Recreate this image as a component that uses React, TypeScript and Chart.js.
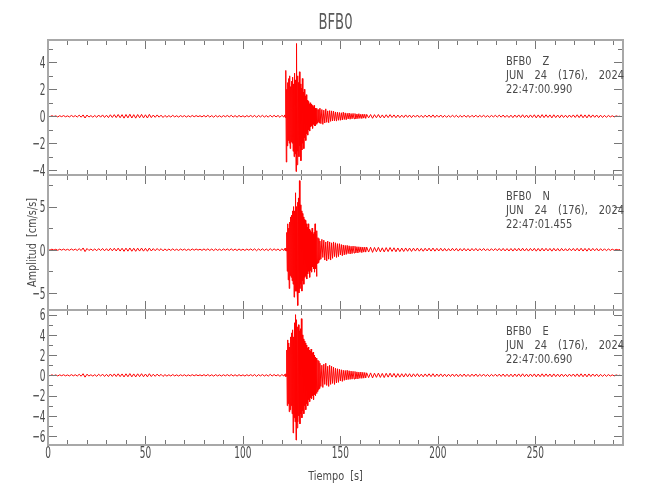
import React, { useEffect, useRef } from "react";
import { Chart, registerables } from "chart.js";

Chart.register(...registerables);

// ---------- text ----------
const TITLE = "BFB0";
const X_TITLE = "Tiempo [s]";
const Y_TITLE = "Amplitud [cm/s/s]";
const STATION = "BFB0";
const channels = ["Z", "N", "E"];
const dateLabel = "JUN 24 (176), 2024";
const startTimes = ["22:47:00.990", "22:47:01.455", "22:47:00.690"];

// ---------- axes ----------
const X_MIN = 0;
const X_MAX = 295;
const xTicks = [0, 10, 20, 30, 40, 50, 60, 70, 80, 90, 100, 110, 120, 130, 140, 150, 160, 170, 180, 190, 200, 210, 220, 230, 240, 250, 260, 270, 280, 290];
const xLabelTicks = [0, 50, 100, 150, 200, 250];

const zRange = [-4.36, 5.66];
const nRange = [-6.99, 8.66];
const eRange = [-6.89, 6.46];
const zTicks = [-4, -3, -2, -1, 0, 1, 2, 3, 4, 5];
const zLabelTicks = [-4, -2, 0, 2, 4];
const nTicks = [-5, -2.5, 0, 2.5, 5, 7.5];
const nLabelTicks = [-5, 0, 5];
const eTicks = [-6, -5, -4, -3, -2, -1, 0, 1, 2, 3, 4, 5, 6];
const eLabelTicks = [-6, -4, -2, 0, 2, 4, 6];

// ---------- sample grid (start time, step in s) ----------
const preStart = 0, preStep = 1;
const burstStart = 121.5, burstStep = 0.25;
const decayStart = 139.5, decayStep = 0.5;
const tailStart = 163.5, tailStep = 1;

// ---------- Z component (cm/s/s) ----------
const zPre = [
  0.02, -0.03, 0.04, -0.02, 0.03, -0.05, 0.04, -0.03, 0.05, -0.04,
  0.03, -0.05, 0.06, -0.04, 0.05, -0.06, 0.08, -0.07, 0.1, -0.13,
  0.09, -0.06, 0.05, -0.07, 0.06, -0.08, 0.09, -0.07, 0.1, -0.09,
  0.08, -0.1, 0.11, -0.09, 0.12, -0.1, 0.13, -0.11, 0.12, -0.14,
  0.13, -0.12, 0.15, -0.13, 0.12, -0.14, 0.13, -0.11, 0.14, -0.12,
  0.11, -0.13, 0.14, -0.1, 0.09, -0.08, 0.1, -0.07, 0.08, -0.09,
  0.06, -0.07, 0.05, -0.06, 0.07, -0.05, 0.04, -0.06, 0.05, -0.04,
  0.05, -0.06, 0.04, -0.05, 0.06, -0.04, 0.05, -0.03, 0.04, -0.05,
  0.06, -0.05, 0.07, -0.06, 0.05, -0.07, 0.06, -0.05, 0.04, -0.06,
  0.05, -0.04, 0.06, -0.05, 0.07, -0.06, 0.05, -0.07, 0.06, -0.05,
  0.04, -0.06, 0.05, -0.04, 0.06, -0.05, 0.07, -0.08, 0.06, -0.05,
  0.07, -0.06, 0.05, -0.07, 0.08, -0.06, 0.07, -0.05, 0.06, -0.08,
  0.07, -0.06,
];
const zBurst = [0.1, -0.1, 3.4, -3.4, 2.0, -2.2, 2.5, -1.8, 2.8, -2.0, 3.0, -2.4, 2.2, -1.9, 2.6, -2.0, 2.9, -2.6, 2.4, -3.0, 3.2, -2.8, 2.7, -4.1, 5.4, -3.6, 3.0, -2.6, 2.5, -3.0, 3.3, -2.2, 2.4, -3.3, 2.1, -2.5, 2.8, -2.0, 1.8, -2.4, 2.0, -1.6, 1.5, -1.8, 1.6, -1.3, 1.2, -1.4, 1.1, -1.0, 0.9, -1.1, 1.0, -0.8, 0.9, -0.7, 0.8, -0.9, 0.7, -0.6, 0.8, -0.7, 0.6, -0.7, 0.5, -0.6, 0.6, -0.5, 0.5, -0.4, 0.5, -0.5];
const zDecay = [0.6, -0.55, 0.5, -0.6, 0.45, -0.5, 0.55, -0.45, 0.4, -0.48, 0.42, -0.38, 0.4, -0.35, 0.38, -0.34, 0.32, -0.36, 0.3, -0.3, 0.28, -0.3, 0.26, -0.28, 0.3, -0.24, 0.25, -0.26, 0.22, -0.2, 0.24, -0.22, 0.2, -0.19, 0.21, -0.18, 0.2, -0.2, 0.17, -0.18, 0.19, -0.16, 0.15, -0.17, 0.16, -0.14, 0.15, -0.16];
const zTail = [
  0.14, -0.12, 0.13, -0.15, 0.12, -0.11, 0.13, -0.12, 0.1, -0.12,
  0.11, -0.1, 0.12, -0.09, 0.1, -0.11, 0.09, -0.1, 0.08, -0.09,
  0.1, -0.08, 0.09, -0.1, 0.08, -0.07, 0.09, -0.08, 0.07, -0.09,
  0.08, -0.07, 0.09, -0.08, 0.1, -0.09, 0.08, -0.07, 0.09, -0.08,
  0.07, -0.08, 0.06, -0.07, 0.08, -0.06, 0.07, -0.08, 0.06, -0.07,
  0.08, -0.07, 0.06, -0.08, 0.07, -0.06, 0.08, -0.07, 0.06, -0.05,
  0.07, -0.06, 0.05, -0.07, 0.06, -0.05, 0.07, -0.06, 0.08, -0.07,
  0.09, -0.08, 0.07, -0.09, 0.08, -0.1, 0.09, -0.08, 0.1, -0.09,
  0.11, -0.1, 0.09, -0.11, 0.1, -0.09, 0.11, -0.12, 0.1, -0.11,
  0.12, -0.1, 0.11, -0.09, 0.1, -0.12, 0.11, -0.1, 0.09, -0.11,
  0.1, -0.09, 0.08, -0.1, 0.09, -0.08, 0.1, -0.09, 0.11, -0.1,
  0.12, -0.11, 0.1, -0.12, 0.11, -0.09, 0.1, -0.08, 0.09, -0.1,
  0.08, -0.09, 0.07, -0.08, 0.06, -0.05, 0.04, -0.05, 0.03, -0.02,
  0.01,
];

// ---------- N component ----------
const nPre = [
  0.03, -0.05, 0.06, -0.04, 0.05, -0.07, 0.06, -0.05, 0.07, -0.06,
  0.05, -0.07, 0.08, -0.06, 0.07, -0.09, 0.12, -0.1, 0.2, -0.22,
  0.14, -0.09, 0.08, -0.1, 0.09, -0.12, 0.13, -0.1, 0.14, -0.13,
  0.12, -0.14, 0.16, -0.13, 0.17, -0.15, 0.18, -0.16, 0.17, -0.19,
  0.18, -0.17, 0.2, -0.18, 0.17, -0.19, 0.18, -0.16, 0.19, -0.17,
  0.16, -0.18, 0.19, -0.15, 0.13, -0.12, 0.14, -0.1, 0.12, -0.13,
  0.09, -0.1, 0.08, -0.09, 0.1, -0.08, 0.06, -0.09, 0.08, -0.06,
  0.07, -0.09, 0.06, -0.08, 0.09, -0.06, 0.08, -0.05, 0.06, -0.08,
  0.09, -0.08, 0.1, -0.09, 0.08, -0.1, 0.09, -0.08, 0.06, -0.09,
  0.08, -0.06, 0.09, -0.08, 0.1, -0.09, 0.08, -0.1, 0.09, -0.08,
  0.06, -0.09, 0.08, -0.06, 0.09, -0.08, 0.1, -0.12, 0.09, -0.08,
  0.1, -0.09, 0.08, -0.1, 0.12, -0.09, 0.1, -0.08, 0.09, -0.12,
  0.1, -0.09,
];
const nBurst = [0.15, -0.1, 0.2, -0.15, 2.0, -2.5, 3.0, -3.5, 2.5, -4.5, 3.2, -3.0, 3.8, -3.2, 4.0, -3.6, 4.5, -4.0, 5.0, -5.5, 4.5, -4.8, 6.6, -4.8, 5.0, -4.6, 5.5, -6.46, 6.0, -5.0, 8.0, -4.5, 5.2, -4.0, 4.5, -4.8, 4.2, -3.6, 3.8, -4.0, 3.5, -3.2, 3.4, -3.0, 3.0, -3.4, 2.6, -2.8, 3.0, -2.5, 2.4, -3.2, 2.2, -2.4, 2.0, -2.6, 2.5, -2.0, 1.8, -2.2, 2.0, -2.6, 3.0, -2.2, 1.8, -3.1, 2.2, -1.6, 1.4, -1.5, 1.3, -1.2];
const nDecay = [1.0, -1.1, 1.2, -0.9, 1.1, -1.2, 0.9, -1.3, 1.0, -1.1, 0.9, -1.2, 0.8, -1.0, 0.9, -0.8, 0.8, -0.9, 0.7, -0.8, 0.7, -0.6, 0.6, -0.7, 0.55, -0.6, 0.5, -0.55, 0.5, -0.45, 0.45, -0.5, 0.4, -0.45, 0.42, -0.38, 0.4, -0.36, 0.35, -0.38, 0.34, -0.3, 0.32, -0.34, 0.3, -0.28, 0.3, -0.28];
const nTail = [
  0.3, -0.27, 0.28, -0.31, 0.26, -0.24, 0.27, -0.25, 0.22, -0.26,
  0.24, -0.22, 0.25, -0.2, 0.22, -0.24, 0.2, -0.22, 0.19, -0.21,
  0.2, -0.18, 0.19, -0.2, 0.18, -0.16, 0.19, -0.17, 0.15, -0.18,
  0.17, -0.15, 0.18, -0.16, 0.19, -0.17, 0.16, -0.15, 0.17, -0.16,
  0.15, -0.16, 0.13, -0.15, 0.16, -0.13, 0.15, -0.16, 0.13, -0.14,
  0.15, -0.14, 0.12, -0.15, 0.14, -0.12, 0.15, -0.14, 0.12, -0.11,
  0.14, -0.12, 0.11, -0.14, 0.12, -0.11, 0.13, -0.12, 0.14, -0.13,
  0.15, -0.14, 0.13, -0.15, 0.14, -0.16, 0.15, -0.14, 0.16, -0.15,
  0.17, -0.15, 0.14, -0.16, 0.15, -0.14, 0.16, -0.17, 0.15, -0.16,
  0.17, -0.15, 0.16, -0.14, 0.15, -0.17, 0.16, -0.15, 0.14, -0.16,
  0.15, -0.14, 0.12, -0.15, 0.14, -0.12, 0.15, -0.14, 0.16, -0.15,
  0.17, -0.16, 0.15, -0.17, 0.16, -0.14, 0.15, -0.12, 0.14, -0.15,
  0.12, -0.13, 0.11, -0.12, 0.09, -0.08, 0.06, -0.07, 0.04, -0.03,
  0.02,
];

// ---------- E component ----------
const ePre = [
  0.03, -0.04, 0.05, -0.03, 0.04, -0.06, 0.05, -0.04, 0.06, -0.05,
  0.04, -0.06, 0.07, -0.05, 0.06, -0.07, 0.1, -0.09, 0.16, -0.18,
  0.11, -0.07, 0.06, -0.08, 0.07, -0.1, 0.11, -0.08, 0.12, -0.11,
  0.1, -0.12, 0.13, -0.11, 0.14, -0.12, 0.15, -0.13, 0.14, -0.16,
  0.15, -0.14, 0.17, -0.15, 0.14, -0.16, 0.15, -0.13, 0.16, -0.14,
  0.13, -0.15, 0.16, -0.12, 0.11, -0.1, 0.12, -0.08, 0.1, -0.11,
  0.07, -0.08, 0.06, -0.07, 0.08, -0.06, 0.05, -0.07, 0.06, -0.05,
  0.06, -0.07, 0.05, -0.06, 0.07, -0.05, 0.06, -0.04, 0.05, -0.06,
  0.07, -0.06, 0.08, -0.07, 0.06, -0.08, 0.07, -0.06, 0.05, -0.07,
  0.06, -0.05, 0.07, -0.06, 0.08, -0.07, 0.06, -0.08, 0.07, -0.06,
  0.05, -0.07, 0.06, -0.05, 0.07, -0.06, 0.08, -0.1, 0.07, -0.06,
  0.08, -0.07, 0.06, -0.08, 0.1, -0.07, 0.08, -0.06, 0.07, -0.1,
  0.08, -0.07,
];
const eBurst = [0.1, -0.12, 0.15, -0.1, 2.5, -3.0, 3.5, -2.8, 3.2, -3.6, 2.8, -3.4, 3.8, -3.0, 4.2, -3.8, 4.5, -5.7, 3.8, -4.2, 5.2, -4.6, 6.0, -6.4, 5.5, -5.2, 4.8, -4.6, 5.0, -4.0, 4.4, -4.8, 4.6, -3.8, 5.6, -4.2, 4.0, -3.5, 3.6, -3.8, 3.4, -3.0, 3.2, -3.4, 3.0, -2.8, 2.7, -3.0, 2.8, -2.4, 2.5, -2.6, 2.4, -2.2, 2.6, -2.3, 2.2, -2.0, 2.3, -2.4, 2.0, -1.9, 1.8, -2.0, 1.7, -1.8, 1.6, -1.6, 1.5, -1.4, 1.4, -1.3];
const eDecay = [1.2, -1.1, 1.0, -1.2, 1.1, -0.9, 1.2, -1.0, 0.9, -1.1, 1.0, -0.9, 0.9, -0.8, 0.8, -0.9, 0.7, -0.75, 0.65, -0.7, 0.6, -0.55, 0.55, -0.6, 0.5, -0.5, 0.48, -0.45, 0.5, -0.42, 0.45, -0.4, 0.42, -0.38, 0.4, -0.36, 0.38, -0.35, 0.34, -0.36, 0.32, -0.3, 0.33, -0.3, 0.3, -0.28, 0.28, -0.26];
const eTail = [
  0.25, -0.23, 0.24, -0.26, 0.21, -0.2, 0.22, -0.21, 0.19, -0.22,
  0.2, -0.18, 0.21, -0.17, 0.19, -0.2, 0.17, -0.18, 0.16, -0.17,
  0.17, -0.15, 0.16, -0.17, 0.15, -0.13, 0.16, -0.14, 0.12, -0.15,
  0.14, -0.12, 0.15, -0.13, 0.16, -0.14, 0.13, -0.12, 0.14, -0.13,
  0.12, -0.13, 0.11, -0.12, 0.13, -0.11, 0.12, -0.13, 0.11, -0.12,
  0.13, -0.12, 0.1, -0.13, 0.12, -0.1, 0.13, -0.12, 0.1, -0.09,
  0.12, -0.1, 0.09, -0.12, 0.1, -0.09, 0.11, -0.1, 0.12, -0.11,
  0.13, -0.12, 0.11, -0.13, 0.12, -0.14, 0.13, -0.12, 0.14, -0.13,
  0.15, -0.13, 0.12, -0.14, 0.13, -0.12, 0.14, -0.15, 0.13, -0.14,
  0.15, -0.13, 0.14, -0.12, 0.13, -0.15, 0.14, -0.13, 0.12, -0.14,
  0.13, -0.12, 0.1, -0.13, 0.12, -0.1, 0.13, -0.12, 0.14, -0.13,
  0.15, -0.14, 0.13, -0.15, 0.14, -0.12, 0.13, -0.1, 0.12, -0.13,
  0.1, -0.11, 0.09, -0.1, 0.08, -0.07, 0.05, -0.06, 0.04, -0.03,
  0.02,
];

const FAMILY = '"DejaVu Sans", sans-serif';
const TEXT_COLOR = "#4a4a4a";
const FRAME_COLOR = "#a8a8a8";
const TICK_COLOR = "#777777";

type Seg = { start: number; step: number; values: number[] };

function toPoints(segs: Seg[]) {
  const pts: { x: number; y: number }[] = [];
  segs.forEach((s) => s.values.forEach((v, i) => pts.push({ x: s.start + i * s.step, y: v })));
  return pts;
}

function traceSegs(pre: number[], burst: number[], decay: number[], tail: number[]): Seg[] {
  return [
    { start: preStart, step: preStep, values: pre },
    { start: burstStart, step: burstStep, values: burst },
    { start: decayStart, step: decayStep, values: decay },
    { start: tailStart, step: tailStep, values: tail },
  ];
}

const fmt = (v: number) => (v < 0 ? "\u2212" + String(-v) : String(v));

const panels = [
  { id: "yZ", range: zRange, ticks: zTicks, labels: zLabelTicks },
  { id: "yN", range: nRange, ticks: nTicks, labels: nLabelTicks },
  { id: "yE", range: eRange, ticks: eTicks, labels: eLabelTicks },
];

type TextOpt = { size: number; sx: number; align: "left" | "center" | "right"; space?: number; rot?: number; color?: string };

// draws text whose cap-height centre sits at (x, y), horizontally condensed by sx
function drawText(ctx: CanvasRenderingContext2D, text: string, x: number, y: number, o: TextOpt) {
  ctx.save();
  ctx.translate(x, y);
  if (o.rot) ctx.rotate(o.rot);
  ctx.scale(o.sx, 1);
  ctx.font = `${o.size}px ${FAMILY}`;
  ctx.fillStyle = o.color || TEXT_COLOR;
  ctx.textAlign = "left";
  ctx.textBaseline = "alphabetic";
  const words = text.split(" ");
  const sp = o.space !== undefined ? o.space / o.sx : ctx.measureText(" ").width;
  const widths = words.map((w) => ctx.measureText(w).width);
  const total = widths.reduce((a, b) => a + b, 0) + sp * (words.length - 1);
  let cx = o.align === "left" ? 0 : o.align === "center" ? -total / 2 : -total;
  const base = 0.365 * o.size;
  words.forEach((w, i) => {
    ctx.fillText(w, cx, base);
    cx += widths[i] + sp;
  });
  ctx.restore();
}

function yScale(p: (typeof panels)[number]) {
  return {
    type: "linear",
    position: "left",
    stack: "traces",
    stackWeight: 1,
    offset: false,
    min: p.range[0],
    max: p.range[1],
    grid: { display: false, drawTicks: false },
    border: { display: false },
    ticks: { display: false, autoSkip: false },
    afterBuildTicks: (s: any) => {
      s.ticks = p.ticks.map((v) => ({ value: v }));
    },
    afterFit: (s: any) => {
      s.width = 48;
    },
  };
}

const framePlugin = {
  id: "seismoFrames",
  afterDraw(chart: any) {
    const { ctx, chartArea } = chart;
    const xs = chart.scales.x;
    const left = chartArea.left;
    const right = chartArea.right;
    ctx.save();
    panels.forEach((p, idx) => {
      const s = chart.scales[p.id];
      const top = s.top;
      const bottom = s.bottom;
      ctx.strokeStyle = TICK_COLOR;
      ctx.lineWidth = 1;
      ctx.beginPath();
      xTicks.forEach((v) => {
        const px = Math.round(xs.getPixelForValue(v)) + 0.5;
        const len = xLabelTicks.includes(v) ? 9 : 5;
        ctx.moveTo(px, top);
        ctx.lineTo(px, top + len);
        ctx.moveTo(px, bottom);
        ctx.lineTo(px, bottom - len);
      });
      p.ticks.forEach((v) => {
        const py = Math.round(s.getPixelForValue(v)) + 0.5;
        const len = p.labels.includes(v) ? 9 : 5;
        ctx.moveTo(left, py);
        ctx.lineTo(left + len, py);
        ctx.moveTo(right, py);
        ctx.lineTo(right - len, py);
      });
      ctx.stroke();
      ctx.strokeStyle = FRAME_COLOR;
      ctx.lineWidth = 2;
      ctx.strokeRect(left, top, right - left, bottom - top);
      // y tick labels
      p.labels.forEach((v) => {
        drawText(ctx, fmt(v), left - 2.5, s.getPixelForValue(v), { size: 16, sx: 0.56, align: "right" });
      });
      // annotation
      const tx = 506;
      const ann = { size: 13, sx: 0.76, align: "left" as const, space: 11 };
      drawText(ctx, `${STATION} ${channels[idx]}`, tx, top + 20.5, ann);
      drawText(ctx, dateLabel, tx, top + 34.5, ann);
      drawText(ctx, startTimes[idx], tx, top + 48.5, ann);
    });
    // x tick labels
    xLabelTicks.forEach((v) => {
      drawText(ctx, String(v), xs.getPixelForValue(v), 452.5, { size: 16, sx: 0.56, align: "center" });
    });
    // axis titles
    drawText(ctx, X_TITLE, (left + right) / 2, 475, { size: 13, sx: 0.75, align: "center", space: 6 });
    const yMid = chart.scales.yN;
    drawText(ctx, Y_TITLE, 31, (yMid.top + yMid.bottom) / 2, { size: 13, sx: 0.75, align: "center", space: 6, rot: -Math.PI / 2 });
    // title
    drawText(ctx, TITLE, (left + right) / 2, 20.5, { size: 22, sx: 0.6, align: "center", color: "#5a5a5a" });
    ctx.restore();
  },
};

export default function App() {
  const ref = useRef<HTMLCanvasElement | null>(null);
  useEffect(() => {
    if (!ref.current) return;
    const traces = [
      { id: "yZ", pts: toPoints(traceSegs(zPre, zBurst, zDecay, zTail)) },
      { id: "yN", pts: toPoints(traceSegs(nPre, nBurst, nDecay, nTail)) },
      { id: "yE", pts: toPoints(traceSegs(ePre, eBurst, eDecay, eTail)) },
    ];
    const chart = new Chart(ref.current, {
      type: "line",
      data: {
        datasets: traces.map((t, i) => ({
          label: channels[i],
          data: t.pts,
          yAxisID: t.id,
          xAxisID: "x",
          borderColor: "#ff0000",
          borderWidth: 1,
          pointRadius: 0,
          tension: 0,
          fill: false,
        })),
      },
      options: {
        responsive: false,
        animation: false,
        devicePixelRatio: 1,
        layout: { padding: { top: 40, right: 27, bottom: 0, left: 0 } },
        plugins: { legend: { display: false }, tooltip: { enabled: false }, title: { display: false } },
        events: [],
        scales: {
          x: {
            type: "linear",
            position: "bottom",
            min: X_MIN,
            max: X_MAX,
            grid: { display: false, drawTicks: false },
            border: { display: false },
            ticks: { display: false, autoSkip: false },
            afterBuildTicks: (s: any) => {
              s.ticks = xTicks.map((v) => ({ value: v }));
            },
            afterFit: (s: any) => {
              s.height = 55;
            },
          },
          yE: yScale(panels[2]),
          yN: yScale(panels[1]),
          yZ: yScale(panels[0]),
        } as any,
      },
      plugins: [framePlugin],
    } as any);
    return () => chart.destroy();
  }, []);
  return (
    <div style={{ position: "absolute", left: 0, top: 0, width: 650, height: 500, background: "#fff" }}>
      <canvas ref={ref} width={650} height={500} />
    </div>
  );
}
